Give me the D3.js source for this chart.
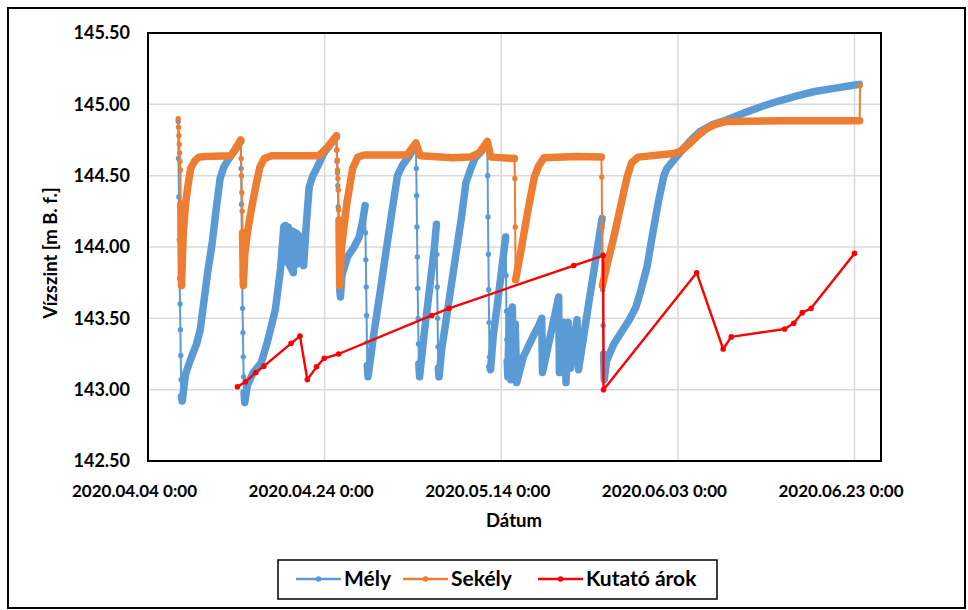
<!DOCTYPE html>
<html><head><meta charset="utf-8">
<script src="https://cdn.jsdelivr.net/npm/d3@7"></script>
<style>
body{margin:0;background:#fff}
text{font-family:Lato,"Open Sans",sans-serif;font-weight:700;fill:#000}
</style>
</head><body><svg id="c" width="968" height="610"></svg>
<script>
// ---------- data ----------
const xTickDates = ["2020-04-04 00","2020-04-24 00","2020-05-14 00","2020-06-03 00","2020-06-23 00"];
const xTickLabels = ["2020.04.04 0:00","2020.04.24 0:00","2020.05.14 0:00","2020.06.03 0:00","2020.06.23 0:00"];
const yTicks = [142.5,143.0,143.5,144.0,144.5,145.0,145.5];
const seriesNames = ["Mély","Sekély","Kutató árok"];
const seriesColors = ["#5B9BD5","#ED7D31","#FF0000"];

const melyData = [
["04-07 10",144.88],["04-07 11",144.62],["04-07 12",144.35],["04-07 13",144.05],["04-07 14",143.78],["04-07 15",143.60],["04-07 16",143.42],["04-07 17",143.24],["04-07 18",143.07],["04-07 19",142.95],["04-07 21",142.92],
["04-08 06",143.11],["04-08 18",143.20],["04-09 12",143.32],["04-09 22",143.42],["04-10 06",143.58],["04-10 18",143.82],["04-11 06",144.02],["04-11 18",144.28],["04-12 04",144.48],["04-12 14",144.56],["04-13 04",144.62],["04-13 18",144.67],["04-14 12",144.74],
["04-14 13",144.55],["04-14 14",144.30],["04-14 15",144.05],["04-14 16",143.80],["04-14 17",143.57],["04-14 18",143.40],["04-14 19",143.23],["04-14 20",143.09],["04-14 21",142.98],["04-14 23",142.91],
["04-15 06",143.03],["04-15 22",143.12],["04-16 20",143.19],["04-17 12",143.33],["04-18 10",143.56],["04-19 00",143.84],["04-19 09",144.14],
["04-19 11",143.93],["04-19 13",144.15],["04-19 15",143.90],["04-19 17",144.12],["04-19 19",143.92],["04-19 21",144.14],["04-19 23",143.88],["04-20 01",144.12],["04-20 03",143.86],["04-20 05",144.10],["04-20 07",143.84],["04-20 09",144.11],["04-20 11",143.82],["04-20 13",144.08],["04-20 15",143.90],["04-20 17",144.10],["04-20 19",143.88],["04-20 21",144.09],["04-20 23",143.92],["04-21 01",144.08],["04-21 03",143.89],["04-21 05",144.07],["04-21 07",143.91],["04-21 09",144.06],["04-21 11",143.88],["04-21 13",144.05],["04-21 15",143.87],
["04-21 22",144.15],["04-22 06",144.42],["04-22 16",144.50],["04-23 04",144.56],["04-23 22",144.66],["04-24 16",144.72],["04-25 08",144.77],
["04-25 09",144.68],["04-25 10",144.60],["04-25 11",144.52],["04-25 12",144.43],["04-25 13",144.28],["04-25 14",144.05],["04-25 15",143.91],["04-25 16",143.80],["04-25 17",143.70],["04-25 19",143.65],
["04-25 23",143.80],["04-26 14",143.93],["04-27 08",144.00],["04-27 22",144.07],["04-28 08",144.19],["04-28 14",144.29],
["04-28 15",144.10],["04-28 16",143.91],["04-28 17",143.72],["04-28 18",143.52],["04-28 19",143.33],["04-28 20",143.17],["04-28 22",143.09],
["04-29 12",143.36],["04-30 06",143.67],["05-01 00",143.99],["05-01 18",144.30],["05-02 06",144.50],["05-02 20",144.575],["05-03 12",144.63],["05-04 08",144.72],
["05-04 09",144.55],["05-04 10",144.36],["05-04 11",144.14],["05-04 12",143.93],["05-04 13",143.71],["05-04 14",143.50],["05-04 15",143.32],["05-04 16",143.18],["05-04 18",143.09],
["05-05 06",143.38],["05-05 20",143.68],["05-06 10",143.99],["05-06 16",144.16],
["05-06 17",143.95],["05-06 18",143.72],["05-06 19",143.50],["05-06 20",143.30],["05-06 21",143.15],["05-06 23",143.09],
["05-07 06",143.28],["05-08 00",143.59],["05-08 18",143.90],["05-09 12",144.21],["05-10 00",144.45],["05-10 12",144.54],["05-11 00",144.62],["05-11 18",144.67],["05-12 10",144.73],
["05-12 11",144.50],["05-12 12",144.21],["05-12 13",143.95],["05-12 14",143.70],["05-12 15",143.47],["05-12 16",143.23],["05-12 17",143.16],["05-12 19",143.14],
["05-13 02",143.37],["05-13 14",143.61],["05-14 02",143.86],["05-14 12",144.07],
["05-14 13",143.80],["05-14 14",143.55],["05-14 15",143.35],["05-14 16",143.20],["05-14 18",143.09],
["05-14 22",143.55],["05-15 02",143.07],["05-15 06",143.58],["05-15 10",143.10],["05-15 14",143.46],["05-15 18",143.05],
["05-16 12",143.23],["05-17 12",143.36],["05-18 06",143.45],["05-18 14",143.50],["05-18 16",143.12],
["05-20 12",143.65],["05-20 14",143.12],
["05-21 04",143.47],["05-21 08",143.05],["05-21 14",143.47],["05-21 20",143.15],["05-22 14",143.49],["05-22 18",143.14],
["05-23 06",143.34],["05-23 22",143.61],["05-24 14",143.87],["05-25 02",144.07],["05-25 10",144.20],
["05-25 11",143.95],["05-25 12",143.70],["05-25 13",143.45],["05-25 14",143.25],["05-25 16",143.07],
["05-25 22",143.20],["05-26 18",143.32],["05-28 12",143.49],["05-29 06",143.58],["05-29 20",143.70],["05-30 12",143.86],["05-31 04",144.10],["05-31 20",144.33],["06-01 10",144.50],["06-01 18",144.55],["06-02 16",144.62],["06-03 12",144.68],["06-04 12",144.75],["06-05 12",144.81],["06-07 00",144.86],["06-08 12",144.89],["06-10 12",144.94],["06-12 12",144.985],["06-14 12",145.025],["06-16 12",145.06],["06-18 12",145.09],["06-20 12",145.11],["06-22 12",145.13],["06-23 13",145.14]
];

const sekelyData = [
["04-07 10",144.90],["04-07 11",144.84],["04-07 12",144.78],["04-07 13",144.72],["04-07 14",144.66],["04-07 15",144.60],["04-07 16",144.54],["04-07 17",144.30],["04-07 19",143.73],
["04-08 00",144.10],["04-08 06",144.30],["04-08 12",144.42],["04-08 20",144.55],["04-09 06",144.60],["04-09 18",144.63],["04-10 12",144.635],["04-13 09",144.64],["04-13 20",144.68],["04-14 12",144.75],
["04-14 13",144.62],["04-14 14",144.50],["04-14 15",144.38],["04-14 16",144.25],["04-14 17",144.10],["04-14 19",143.73],
["04-14 23",143.95],["04-15 06",144.10],["04-15 18",144.28],["04-16 06",144.44],["04-16 16",144.56],["04-17 04",144.62],["04-18 00",144.64],["04-23 08",144.64],["04-24 08",144.70],["04-25 08",144.78],
["04-25 09",144.68],["04-25 10",144.61],["04-25 11",144.54],["04-25 12",144.48],["04-25 13",144.40],["04-25 14",144.26],["04-25 15",144.19],["04-25 17",143.73],
["04-25 22",144.00],["04-26 12",144.30],["04-27 04",144.55],["04-27 18",144.63],["04-28 12",144.645],["05-03 08",144.645],["05-04 08",144.73],["05-04 20",144.64],["05-08 12",144.625],["05-10 12",144.63],["05-11 12",144.66],["05-12 10",144.74],["05-12 20",144.63],["05-15 12",144.62],
["05-15 13",144.48],["05-15 14",144.14],["05-15 15",143.77],
["05-16 06",143.98],["05-17 00",144.25],["05-17 18",144.49],["05-18 06",144.57],["05-18 20",144.625],["05-22 12",144.635],["05-25 08",144.63],
["05-25 09",144.49],["05-25 10",144.14],["05-25 11",143.73],
["05-26 00",143.88],["05-26 18",144.07],["05-27 12",144.28],["05-28 06",144.49],["05-28 18",144.59],["05-29 12",144.63],["06-02 12",144.655],["06-03 06",144.67],["06-04 06",144.72],["06-05 06",144.78],["06-06 06",144.83],["06-07 06",144.86],["06-08 12",144.88],["06-15 00",144.885],["06-23 14",144.885],["06-23 15",145.13]
];

const kutatoData = [
["04-14 03",143.02],["04-15 01",143.055],["04-16 05",143.12],["04-17 03",143.165],["04-20 05",143.325],["04-21 05",143.375],["04-22 01",143.07],["04-23 02",143.16],["04-23 23",143.22],["04-25 14",143.25],["05-06 03",143.52],["05-08 02",143.57],["05-22 05",143.87],["05-25 13",143.94],["05-25 14",143.00],["06-05 03",143.82],["06-08 03",143.285],["06-09 01",143.37],["06-15 02",143.425],["06-16 03",143.465],["06-17 02",143.54],["06-18 02",143.57],["06-23 00",143.955]
];

// ---------- chart ----------
const parse = d3.timeParse("%Y-%m-%d %H");
const P = s => parse("2020-" + s);
const svg = d3.select("#c");
const W = 968, H = 610;
const plot = {l:148, r:881, t:33, b:461};

svg.append("rect").attr("width",W).attr("height",H).attr("fill","#fff");
svg.append("rect").attr("x",8).attr("y",8).attr("width",957).attr("height",600)
  .attr("fill","none").attr("stroke","#000").attr("stroke-width",2);

const x = d3.scaleTime().domain([parse("2020-04-04 00"), parse("2020-06-26 00")]).range([plot.l, plot.r]);
const y = d3.scaleLinear().domain([142.5,145.5]).range([plot.b, plot.t]);
const xDates = xTickDates.map(d=>parse(d));

// gridlines
const g = svg.append("g");
g.selectAll(".hg").data(yTicks).join("line")
  .attr("x1",plot.l).attr("x2",plot.r).attr("y1",d=>y(d)).attr("y2",d=>y(d))
  .attr("stroke","#D9D9D9").attr("stroke-width",1.5);
g.selectAll(".vg").data(xDates).join("line")
  .attr("x1",d=>x(d)).attr("x2",d=>x(d)).attr("y1",plot.t).attr("y2",plot.b)
  .attr("stroke","#D9D9D9").attr("stroke-width",1.5);

// axes labels
const yAxis = d3.axisLeft(y).tickValues(yTicks).tickFormat(d3.format(".2f")).tickSize(0).tickPadding(18);
const ya = svg.append("g").attr("transform",`translate(${plot.l},0)`).call(yAxis);
ya.select(".domain").remove();
ya.selectAll("text").attr("font-size",18).attr("font-family","Lato,'Open Sans',sans-serif").attr("font-weight",700).attr("fill","#000");

const xAxis = d3.axisBottom(x).tickValues(xDates).tickFormat((d,i)=>xTickLabels[i]).tickSize(0);
const xa = svg.append("g").attr("transform",`translate(0,${plot.b})`).call(xAxis);
xa.select(".domain").remove();
xa.selectAll("text").attr("font-size",17).attr("font-family","Lato,'Open Sans',sans-serif").attr("font-weight",700)
  .attr("fill","#000").attr("y",36).attr("dy",0).attr("dx",-14);

svg.append("text").attr("x",514).attr("y",527).attr("text-anchor","middle").attr("font-size",18.5).text("Dátum");
svg.append("text").attr("transform","translate(57,253) rotate(-90)").attr("text-anchor","middle").attr("font-size",18.5).text("Vízszint [m B. f.]");

// series
function drawSeries(data, color, opts){
  const pts = data.map(([t,v]) => ({t:P(t), v}));
  const gS = svg.append("g");
  const line = d3.line().x(d=>x(d.t)).y(d=>y(d.v));
  gS.append("path").attr("d", line(pts)).attr("fill","none").attr("stroke",color)
    .attr("stroke-width",opts.thin).attr("stroke-linejoin","round");
  if (opts.thick){
    const runs = []; let cur = null;
    for (let i=0;i<pts.length-1;i++){
      const gap = (pts[i+1].t - pts[i].t)/3.6e6;
      if (gap >= 2){
        if (!cur){ cur=[pts[i]]; runs.push(cur); }
        cur.push(pts[i+1]);
      } else cur = null;
    }
    gS.selectAll(".thick").data(runs).join("path").attr("d", line).attr("fill","none")
      .attr("stroke",color).attr("stroke-width",opts.thick)
      .attr("stroke-linejoin","round").attr("stroke-linecap","round");
  }
  gS.selectAll("circle").data(pts).join("circle")
    .attr("cx",d=>x(d.t)).attr("cy",d=>y(d.v)).attr("r",opts.r).attr("fill",color);
}
drawSeries(melyData, seriesColors[0], {thin:2, thick:7.5, r:2.7});
drawSeries(sekelyData, seriesColors[1], {thin:2, thick:7.5, r:2.7});
drawSeries(kutatoData, seriesColors[2], {thin:2.4, thick:0, r:2.8});

// plot border
svg.append("rect").attr("x",plot.l).attr("y",plot.t).attr("width",plot.r-plot.l).attr("height",plot.b-plot.t)
  .attr("fill","none").attr("stroke","#000").attr("stroke-width",2);

// legend
const lg = svg.append("g");
lg.append("rect").attr("x",278).attr("y",560).attr("width",439).attr("height",39)
  .attr("fill","#fff").attr("stroke","#000").attr("stroke-width",1.5);
const legX = [296, 403, 538];
seriesNames.forEach((n,i)=>{
  const gx = legX[i];
  lg.append("line").attr("x1",gx).attr("x2",gx+45).attr("y1",579).attr("y2",579)
    .attr("stroke",seriesColors[i]).attr("stroke-width",2.5);
  lg.append("circle").attr("cx",gx+22.5).attr("cy",579).attr("r",2.8).attr("fill",seriesColors[i]);
  lg.append("text").attr("x",gx+48).attr("y",586).attr("font-size",21).text(n);
});
</script></body></html>
